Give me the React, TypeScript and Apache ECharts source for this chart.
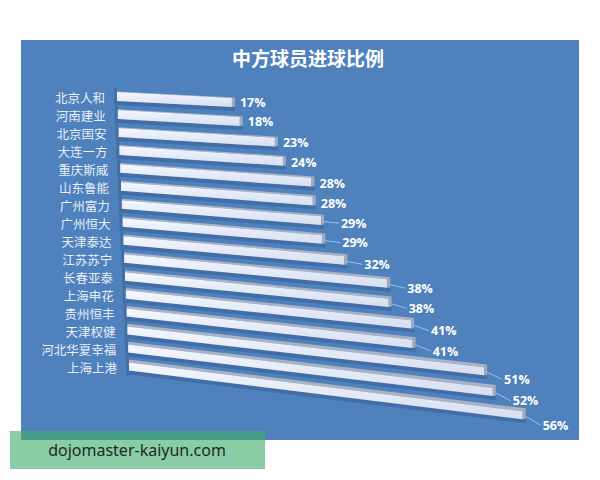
import React, { useEffect, useRef } from "react";
import * as echarts from "echarts";

const title = "中方球员进球比例";
const categories = [
  "北京人和", "河南建业", "北京国安", "大连一方", "重庆斯威", "山东鲁能",
  "广州富力", "广州恒大", "天津泰达", "江苏苏宁", "长春亚泰", "上海申花",
  "贵州恒丰", "天津权健", "河北华夏幸福", "上海上港",
];
const ratios = [17, 18, 23, 24, 28, 28, 29, 29, 32, 38, 38, 41, 41, 51, 52, 56];
const watermark = "dojomaster-kaiyun.com";

export default function App() {
  const ref = useRef<HTMLDivElement>(null);
  useEffect(() => {
    if (!ref.current) return;
    const chart = echarts.init(ref.current, undefined, { renderer: "svg" });
    const n = categories.length;
    const renderItem = (params: any, api: any) => {
      const i = api.value(1) as number;
      const v = api.value(0) as number;
      const p0 = api.coord([0, i]);
      const p1 = api.coord([v, i]);
      const t = i / (n - 1);
      const h = 9 - 1 * t;
      const ht = 0.6 + 2.4 * t;
      const xl = p0[0] + 12 * t;
      const xr = xl + (p1[0] - p0[0]) * (1 + 0.04 * t);
      const s = 0.052 + 0.072 * t;
      const yl = p0[1];
      const yr = yl + s * (xr - xl);
      const dx = t < 0.35 ? 8 : 20;
      const dy = 10 * Math.pow(t, 1.5);
      const children: any[] = [
        {
          type: "polygon",
          shape: {
            points: [
              [xl - 3, yl - 9],
              [xl, yl - 9],
              [xl, yl + 9],
              [xl - 3, yl + 9],
            ],
          },
          style: { fill: "#436fa7" },
        },
        {
          type: "polygon",
          shape: {
            points: [
              [xl, yl + h / 2],
              [xr + 3, yr + h / 2],
              [xr + 3, yr + h / 2 + 4],
              [xl, yl + h / 2 + 4],
            ],
          },
          style: { fill: "rgba(25,55,105,0.25)" },
        },
        {
          type: "polygon",
          shape: {
            points: [
              [xl, yl - h / 2 - ht],
              [xr + 3, yr - h / 2 - ht],
              [xr, yr - h / 2],
              [xl, yl - h / 2],
            ],
          },
          style: { fill: "#aab3c4" },
        },
        {
          type: "polygon",
          shape: {
            points: [
              [xl, yl - h / 2],
              [xr, yr - h / 2],
              [xr, yr + h / 2],
              [xl, yl + h / 2],
            ],
          },
          style: {
            fill: new echarts.graphic.LinearGradient(0, 0, 0, 1, [
              { offset: 0, color: "#f5f7fd" },
              { offset: 1, color: "#d6def0" },
            ]),
          },
        },
        {
          type: "polygon",
          shape: {
            points: [
              [xr, yr - h / 2],
              [xr + 3, yr - h / 2 - ht],
              [xr + 3, yr + h / 2 - 0.5],
              [xr, yr + h / 2],
            ],
          },
          style: { fill: "#a2aabb" },
        },
        {
          type: "text",
          style: {
            text: categories[i],
            x: xl - 12,
            y: yl + 1,
            textAlign: "right",
            textVerticalAlign: "middle",
            fill: "#e8eef8",
            font: "12.5px 'Noto Sans CJK SC'",
          },
        },
        {
          type: "text",
          style: {
            text: v + "%",
            x: xr + dx,
            y: yr + dy,
            textAlign: "left",
            textVerticalAlign: "middle",
            fill: "#ffffff",
            font: "bold 12.5px 'Open Sans'",
          },
        },
      ];
      if (dx > 12) {
        children.push({
          type: "line",
          shape: { x1: xr + 3, y1: yr + 1, x2: xr + dx - 2, y2: yr + dy },
          style: { stroke: "#9cc0ea", lineWidth: 1 },
        });
      }
      return { type: "group", children };
    };
    chart.setOption({
      animation: false,
      title: {
        text: title,
        left: 303,
        top: 43,
        textAlign: "center",
        textStyle: {
          color: "#ffffff",
          fontSize: 19,
          fontWeight: "bold",
          fontFamily: "'Noto Sans CJK SC'",
        },
      },
      graphic: [
        {
          type: "rect",
          z: -10,
          shape: { x: 21, y: 40, width: 558, height: 400 },
          style: { fill: "#4f81bd" },
        },
        {
          type: "rect",
          z: 100,
          shape: { x: 10, y: 431, width: 255, height: 38 },
          style: { fill: "rgba(66,173,106,0.62)" },
        },
        {
          type: "text",
          z: 101,
          x: 137,
          y: 450,
          style: {
            text: watermark,
            textAlign: "center",
            textVerticalAlign: "middle",
            fill: "#1c2b24",
            font: "16px 'Noto Sans'",
          },
        },
      ],
      grid: { left: 117, top: 87.5, right: 77.4, bottom: 104.5 },
      xAxis: { type: "value", min: 0, max: 60, show: false },
      yAxis: {
        type: "category",
        inverse: true,
        data: categories,
        show: false,
      },
      series: [
        {
          type: "custom",
          renderItem,
          data: ratios.map((v, i) => [v, i]),
          encode: { x: 0, y: 1 },
          clip: false,
        },
      ],
    });
    return () => chart.dispose();
  }, []);
  return (
    <div
      ref={ref}
      style={{ position: "fixed", left: 0, top: 0, width: 600, height: 480, background: "#ffffff" }}
    />
  );
}
